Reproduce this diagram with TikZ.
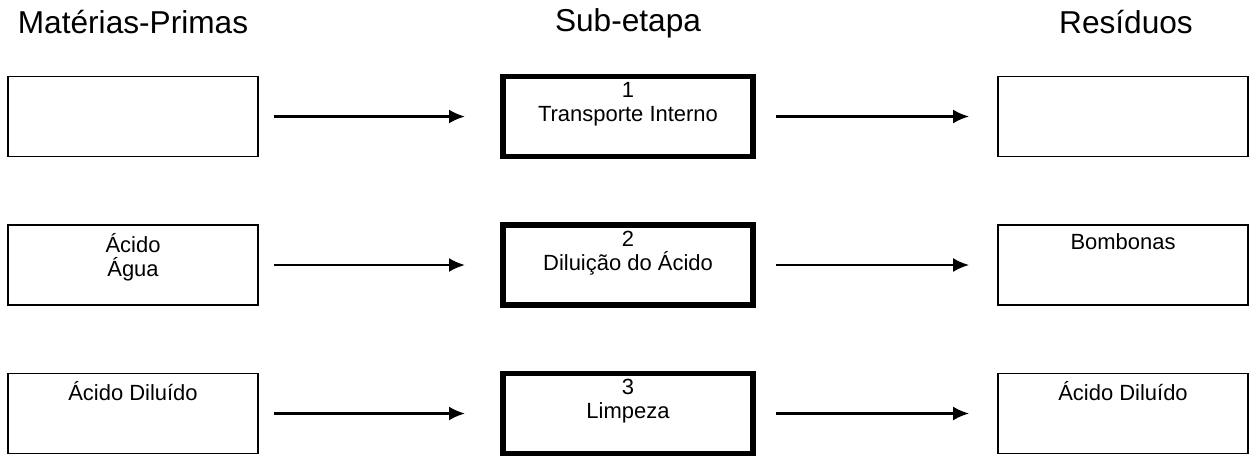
\documentclass[tikz,border=0pt]{standalone}
\usepackage{fontspec}
\setmainfont{Liberation Sans}
\setsansfont{Liberation Sans}
\usepackage{tikz}
\usetikzlibrary{arrows.meta,positioning}
\tikzset{%
  >={Latex[width=2.8mm,length=3.2mm]},
  % Specifications for style of nodes:
       base/.style = {rectangle, draw=black, line width=1pt,
                      minimum width=5cm, minimum height=1.6cm},
   rawstuff/.style = {base},
    substep/.style = {base, line width=3.4pt},
      waste/.style = {base},
     inside/.style = {anchor=north, align=center, inner sep=5pt,
                      font=\fontsize{12.5}{13.5}\selectfont},
     header/.style = {anchor=base, font=\fontsize{18}{20}\selectfont},
     flowin/.style = {->, line width=1.4pt, shorten <=0.3cm, shorten >=0.7cm},
    flowout/.style = {->, line width=1.4pt, shorten <=0.4cm, shorten >=0.56cm},
}

\begin{document}
\begin{tikzpicture}[node distance=9.9cm]
  \useasboundingbox (0,0) rectangle (25.02,-9.14);
  % Specification of nodes (position, etc.)
  \node (mp1) [rawstuff] at (2.66,-2.33) {};
  \node (mp2) [rawstuff, node distance=2.97cm, below of=mp1,
               label={[inside]north:Ácido\\Água}] {};
  \node (mp3) [rawstuff, node distance=2.97cm, below of=mp2,
               label={[inside]north:Ácido Diluído}] {};
  \node (se1) [substep, right of=mp1,
               label={[inside]north:1\\Transporte Interno}] {};
  \node (se2) [substep, right of=mp2,
               label={[inside]north:2\\Diluição do Ácido}] {};
  \node (se3) [substep, right of=mp3,
               label={[inside]north:3\\Limpeza}] {};
  \node (rs1) [waste, right of=se1] {};
  \node (rs2) [waste, right of=se2,
               label={[inside]north:Bombonas}] {};
  \node (rs3) [waste, right of=se3,
               label={[inside]north:Ácido Diluído}] {};
  % column titles
  \path (mp1.north) ++(0,0.84) node (hmp) [header] {Matérias-Primas};
  \path (se1.north) ++(0,0.84) node (hse) [header] {Sub-etapa};
  \path (rs1.north) ++(0.06,0.84) node (hrs) [header] {Resíduos};
  % Specification of lines between nodes specified above
  \draw[flowin]  (mp1) -- (se1);
  \draw[flowin]  (mp2) -- (se2);
  \draw[flowin]  (mp3) -- (se3);
  \draw[flowout] (se1) -- (rs1);
  \draw[flowout] (se2) -- (rs2);
  \draw[flowout] (se3) -- (rs3);
\end{tikzpicture}
\end{document}
